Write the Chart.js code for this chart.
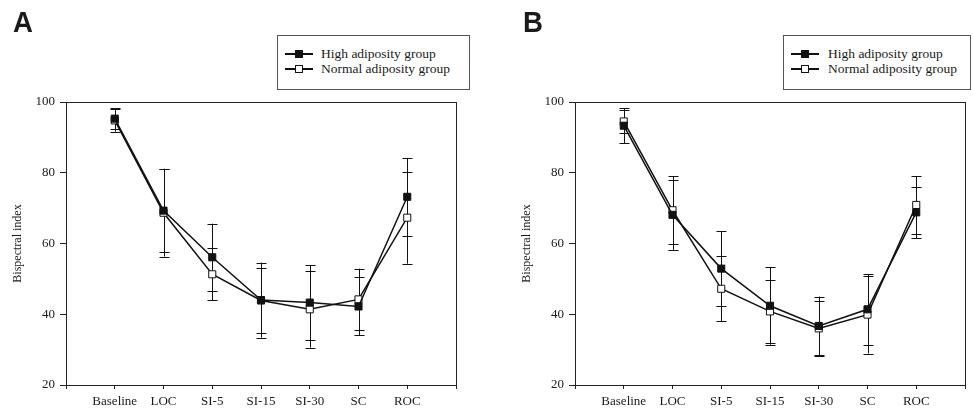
<!DOCTYPE html>
<html>
<head>
<meta charset="utf-8">
<script src="https://cdn.jsdelivr.net/npm/chart.js@4/dist/chart.umd.min.js"></script>
<style>
    html, body { margin: 0; padding: 0; background: #fff; }
    #pagina { position: relative; width: 973px; height: 409px; overflow: hidden; }
    .painel { position: absolute; top: 0; height: 409px; }
    .letra {
        position: absolute; top: 7px; font: bold 30px "Liberation Sans", Arial, sans-serif;
        line-height: 30px; color: #1a1a1a; transform: scaleX(0.92); transform-origin: left top;
    }
    .legenda {
        position: absolute; top: 35px; height: 53px; border: 1px solid #555; background: #fff;
        font: 13.5px "Liberation Serif", "Times New Roman", serif; color: #1a1a1a;
    }
    .legenda .linha { position: absolute; height: 15px; line-height: 15px; white-space: nowrap; }
    .legenda .traco { position: absolute; top: 7px; height: 1.5px; width: 28px; background: #111; }
    .legenda .quadrado { position: absolute; top: 4px; width: 6px; height: 6px; border: 1px solid #111; }
    .legenda .texto { position: absolute; top: 0; }
</style>
</head>
<body>
<div id="pagina">
    <div class="painel" style="left:0;width:486px;"><canvas id="graficoA"></canvas></div>
    <div class="painel" style="left:486px;width:487px;"><canvas id="graficoB"></canvas></div>
    <div class="letra" style="left:13px;">A</div>
    <div class="letra" style="left:523px;">B</div>
    <div class="legenda" id="legendaA" style="left:277px;width:191px;"></div>
    <div class="legenda" id="legendaB" style="left:783px;width:186px;"></div>
</div>
<script>
    var categorias = ['Baseline', 'LOC', 'SI-5', 'SI-15', 'SI-30', 'SC', 'ROC'];
    var ticksY = [20, 40, 60, 80, 100];
    var nomesGrupos = ['High adiposity group', 'Normal adiposity group'];

    // painel A
    var altaA = [95.3, 69.3, 56.1, 44.0, 43.3, 42.2, 73.2];
    var altaErroA = [3.0, 11.8, 9.5, 10.6, 10.5, 8.2, 11.0];
    var normalA = [94.8, 68.7, 51.3, 43.9, 41.4, 44.2, 67.3];
    var normalErroA = [3.2, 12.4, 7.4, 9.3, 10.8, 8.7, 13.0];

    // painel B
    var altaB = [93.3, 68.1, 52.9, 42.4, 36.7, 41.4, 68.8];
    var altaErroB = [4.9, 9.9, 10.5, 11.0, 8.3, 10.0, 7.3];
    var normalB = [94.5, 69.4, 47.2, 40.8, 36.0, 39.9, 70.9];
    var normalErroB = [3.3, 9.6, 9.2, 8.9, 7.7, 11.0, 8.1];

    var corLinha = '#111';
    var corEixo = '#222';
    var fonteSerif = '"Liberation Serif", "Times New Roman", serif';

    function pontos(valores) {
        return valores.map(function (v, i) { return { x: i + 1, y: v }; });
    }

    // barras de erro desenhadas antes das linhas e marcadores
    var pluginErro = {
        id: 'barrasErro',
        beforeDatasetsDraw: function (chart) {
            var ctx = chart.ctx;
            var sx = chart.scales.x;
            var sy = chart.scales.y;
            ctx.save();
            ctx.strokeStyle = corLinha;
            ctx.lineWidth = 1;
            chart.data.datasets.forEach(function (ds) {
                ds.data.forEach(function (p, i) {
                    var e = ds.erros[i];
                    var x = Math.round(sx.getPixelForValue(p.x)) + 0.5;
                    var yTopo = sy.getPixelForValue(p.y + e);
                    var yBase = sy.getPixelForValue(p.y - e);
                    ctx.beginPath();
                    ctx.moveTo(x, yTopo);
                    ctx.lineTo(x, yBase);
                    ctx.moveTo(x - 5, Math.round(yTopo) + 0.5);
                    ctx.lineTo(x + 5, Math.round(yTopo) + 0.5);
                    ctx.moveTo(x - 5, Math.round(yBase) + 0.5);
                    ctx.lineTo(x + 5, Math.round(yBase) + 0.5);
                    ctx.stroke();
                });
            });
            ctx.restore();
        }
    };

    // moldura fechada em volta da área do gráfico
    var pluginMoldura = {
        id: 'moldura',
        afterDraw: function (chart) {
            var a = chart.chartArea;
            var ctx = chart.ctx;
            ctx.save();
            ctx.strokeStyle = corEixo;
            ctx.lineWidth = 1;
            ctx.strokeRect(Math.round(a.left) + 0.5, Math.round(a.top) + 0.5,
                Math.round(a.right - a.left), Math.round(a.bottom - a.top));
            ctx.restore();
        }
    };

    function montarGrafico(idCanvas, alta, altaErro, normal, normalErro, padEsq, padDir) {
        var ctx = document.getElementById(idCanvas).getContext('2d');
        return new Chart(ctx, {
            type: 'line',
            data: {
                datasets: [{
                    label: nomesGrupos[0],
                    data: pontos(alta),
                    erros: altaErro,
                    borderColor: corLinha,
                    borderWidth: 1.5,
                    pointStyle: 'rect',
                    pointRadius: 5,
                    pointBackgroundColor: corLinha,
                    pointBorderColor: corLinha,
                    pointBorderWidth: 1,
                    tension: 0,
                    fill: false
                }, {
                    label: nomesGrupos[1],
                    data: pontos(normal),
                    erros: normalErro,
                    borderColor: corLinha,
                    borderWidth: 1.5,
                    pointStyle: 'rect',
                    pointRadius: 5,
                    pointBackgroundColor: '#fff',
                    pointBorderColor: corLinha,
                    pointBorderWidth: 1,
                    tension: 0,
                    fill: false
                }]
            },
            options: {
                responsive: true,
                maintainAspectRatio: false,
                animation: false,
                layout: { padding: { top: 102, right: padDir, bottom: 0, left: padEsq } },
                plugins: { legend: { display: false }, tooltip: { enabled: false } },
                scales: {
                    x: {
                        type: 'linear',
                        min: 0,
                        max: categorias.length + 1,
                        afterBuildTicks: function (escala) {
                            var t = [];
                            for (var i = 0; i <= categorias.length + 1; i++) {
                                t.push({ value: i });
                            }
                            escala.ticks = t;
                        },
                        afterFit: function (escala) { escala.height = 24; },
                        border: { display: false },
                        grid: { drawOnChartArea: false, drawTicks: true, tickLength: 4, color: corEixo },
                        ticks: {
                            autoSkip: false,
                            maxRotation: 0,
                            padding: 5,
                            color: '#1a1a1a',
                            font: { family: fonteSerif, size: 13 },
                            callback: function (v) { return categorias[v - 1] || ''; }
                        }
                    },
                    y: {
                        min: ticksY[0],
                        max: ticksY[ticksY.length - 1],
                        afterBuildTicks: function (escala) {
                            escala.ticks = ticksY.map(function (v) { return { value: v }; });
                        },
                        afterFit: function (escala) { escala.width = 55; },
                        border: { display: false },
                        grid: { drawOnChartArea: false, drawTicks: true, tickLength: 6, color: corEixo },
                        ticks: {
                            padding: 5,
                            color: '#1a1a1a',
                            font: { family: fonteSerif, size: 13 }
                        },
                        title: {
                            display: true,
                            text: 'Bispectral index',
                            color: '#1a1a1a',
                            padding: 0,
                            font: { family: fonteSerif, size: 12 }
                        }
                    }
                }
            },
            plugins: [pluginErro, pluginMoldura]
        });
    }

    function montarLegenda(idDiv, inicioTraco, inicioTexto) {
        var div = document.getElementById(idDiv);
        var preenchimentos = [corLinha, '#fff'];
        nomesGrupos.forEach(function (nome, i) {
            var linha = document.createElement('div');
            linha.className = 'linha';
            linha.style.top = (10 + i * 15) + 'px';
            linha.style.left = '0px';
            linha.innerHTML =
                '<span class="traco" style="left:' + inicioTraco + 'px"></span>' +
                '<span class="quadrado" style="left:' + (inicioTraco + 10) + 'px;background:' + preenchimentos[i] + '"></span>' +
                '<span class="texto" style="left:' + inicioTexto + 'px">' + nome + '</span>';
            div.appendChild(linha);
        });
    }

    montarGrafico('graficoA', altaA, altaErroA, normalA, normalErroA, 11, 30);
    montarGrafico('graficoB', altaB, altaErroB, normalB, normalErroB, 34, 8);
    montarLegenda('legendaA', 7, 43);
    montarLegenda('legendaB', 7, 44);
</script>
</body>
</html>
